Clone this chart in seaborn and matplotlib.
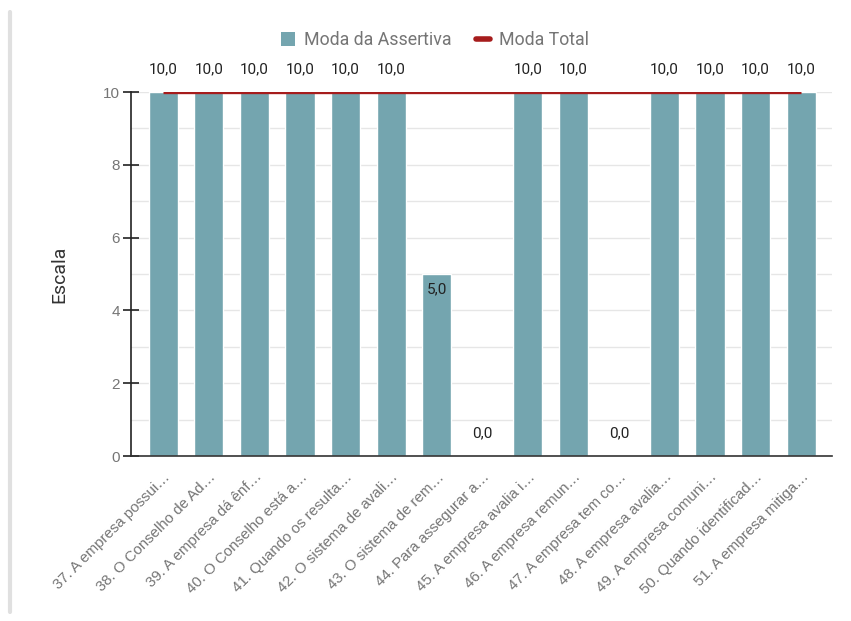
import matplotlib
matplotlib.use("Agg")
import matplotlib.pyplot as plt
from matplotlib.lines import Line2D
from matplotlib.patches import Patch
from matplotlib.ticker import MultipleLocator
import seaborn as sns
import pandas as pd

# Assertion labels (truncated as displayed on the axis)
categories = [
    "37. A empresa possui…",
    "38. O Conselho de Ad…",
    "39. A empresa dá ênf…",
    "40. O Conselho está a…",
    "41. Quando os resulta…",
    "42. O sistema de avali…",
    "43. O sistema de rem…",
    "44. Para assegurar a…",
    "45. A empresa avalia i…",
    "46. A empresa remun…",
    "47. A empresa tem co…",
    "48. A empresa avalia…",
    "49. A empresa comuni…",
    "50. Quando identificad…",
    "51. A empresa mitiga…",
]
moda_assertiva = [10, 10, 10, 10, 10, 10, 5, 0, 10, 10, 0, 10, 10, 10, 10]
moda_total = [10] * len(categories)
y_ticks = [0, 2, 4, 6, 8, 10]

BAR = "#74A5AF"
RED = "#A61C1C"
TXT = "#757575"

sns.set_theme(style="white")
plt.rcParams["font.family"] = ["Roboto", "DejaVu Sans"]

df = pd.DataFrame({"assertiva": categories, "moda": moda_assertiva})

W, H = 851, 621
fig = plt.figure(figsize=(W / 100, H / 100), dpi=100)
ax = fig.add_axes([131 / W, 1 - 456 / H, (831.7 - 131) / W, (456 - 92) / H])

sns.barplot(data=df, x="assertiva", y="moda", color=BAR, saturation=1,
            width=0.64, ax=ax, zorder=2)
ax.plot(range(len(categories)), moda_total, color=RED, lw=2.4, zorder=3,
        solid_capstyle="butt")

ax.set_xlim(-0.71, len(categories) - 1 + 0.67)
ax.set_ylim(0, 10)
ax.set_yticks(y_ticks)
ax.yaxis.set_minor_locator(MultipleLocator(1))
ax.grid(axis="y", which="both", color="#e6e6e6", lw=1, zorder=0)
ax.set_axisbelow(True)

for s in ["top", "right"]:
    ax.spines[s].set_visible(False)
ax.spines["left"].set_color("#222222")
ax.spines["left"].set_linewidth(1.2)
ax.spines["bottom"].set_color("#333333")
ax.spines["bottom"].set_linewidth(1.2)

ax.tick_params(axis="y", which="major", direction="inout", length=12,
               width=1.2, color="#222222", left=True, labelsize=11,
               labelcolor=TXT, pad=2)
ax.tick_params(axis="y", which="minor", left=False)
for lab in ax.get_yticklabels():
    lab.set_fontfamily(["Liberation Sans", "DejaVu Sans"])

ax.tick_params(axis="x", bottom=False, labelsize=10.8, labelcolor=TXT, pad=4)
ax.set_xticks(range(len(categories)))
ax.set_xticklabels(categories, rotation=45, ha="right", rotation_mode="anchor",
                   family=["Liberation Sans", "DejaVu Sans"])
ax.set_xlabel("")
ax.set_ylabel("Escala", fontsize=14, color="#333333", labelpad=25)

# Value labels on each bar
for i, v in enumerate(moda_assertiva):
    txt = f"{v:.1f}".replace(".", ",")
    if v >= 10 or v == 0:
        ax.annotate(txt, (i, v), xytext=(0, 16), textcoords="offset points",
                    ha="center", va="center", fontsize=11, color="#222222")
    else:
        ax.annotate(txt, (i, v), xytext=(0, -11), textcoords="offset points",
                    ha="center", va="center", fontsize=11, color="#222222")

handles = [
    Patch(facecolor=BAR, edgecolor="none", label="Moda da Assertiva"),
    Line2D([0], [0], color=RED, lw=4, label="Moda Total"),
]
fig.legend(handles=handles, loc="center", bbox_to_anchor=(435 / W, 1 - 40 / H),
           ncol=2, frameon=False, fontsize=12.75, labelcolor=TXT,
           handlelength=0.8, handleheight=0.8, handletextpad=0.5,
           columnspacing=1.4)

# Thin panel border on the left
fig.add_artist(Line2D([10 / W, 10 / W], [1 - 612 / H, 1 - 12 / H],
                      color="#e0e0e0", lw=3, transform=fig.transFigure))

fig.savefig("out.png", dpi=100, facecolor="white")
